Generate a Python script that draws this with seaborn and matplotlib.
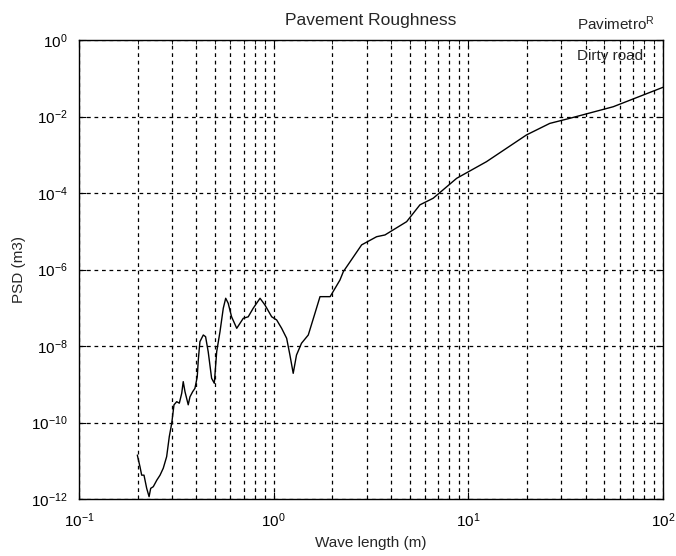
import numpy as np
import pandas as pd
import matplotlib
matplotlib.use("Agg")
import matplotlib.pyplot as plt
import matplotlib.ticker as mticker
import seaborn as sns

# Data (wave length in m, PSD in m^3)
wave_length = [0.1993, 0.2057, 0.2099, 0.2157, 0.2227, 0.2291, 0.2335, 0.2408, 0.2509, 0.2608,
               0.271, 0.282, 0.291, 0.2994, 0.3076, 0.3177, 0.3276, 0.3370, 0.3431, 0.3503,
               0.3640, 0.3716, 0.3837, 0.394, 0.405, 0.410, 0.418, 0.435, 0.447, 0.461,
               0.480, 0.4955, 0.5097, 0.530, 0.551, 0.567, 0.584, 0.608, 0.646, 0.671,
               0.698, 0.740, 0.785, 0.851, 0.902, 0.977, 1.036, 1.099, 1.166, 1.212,
               1.26, 1.31, 1.39, 1.506, 1.630, 1.73, 1.95, 2.19, 2.28, 2.83,
               3.38, 3.73, 4.82, 5.64, 6.60, 8.71, 12.4, 19.9, 26.2, 33.3,
               55.5, 100.0]
psd = [1.41e-11, 7.0e-12, 4.2e-12, 4.2e-12, 1.9e-12, 1.15e-12, 1.9e-12, 2.1e-12, 3.1e-12, 4.2e-12,
       6.4e-12, 1.28e-11, 4.3e-11, 9.5e-11, 2.9e-10, 3.5e-10, 3.2e-10, 5.8e-10, 1.17e-9, 6.4e-10,
       2.9e-10, 4.7e-10, 6.4e-10, 7.8e-10, 1.57e-9, 4.3e-9, 1.3e-8, 1.94e-8, 1.75e-8, 7.1e-9,
       1.43e-9, 1.06e-9, 7.1e-9, 2.37e-8, 9.7e-8, 1.77e-7, 1.31e-7, 5.8e-8, 2.9e-8, 3.9e-8,
       5.3e-8, 5.8e-8, 9.7e-8, 1.77e-7, 1.18e-7, 5.8e-8, 4.8e-8, 2.9e-8, 1.59e-8, 5.8e-9,
       1.93e-9, 5.8e-9, 1.18e-8, 1.94e-8, 7.2e-8, 1.95e-7, 1.95e-7, 5.3e-7, 8.8e-7, 4.4e-6,
       7.2e-6, 8.0e-6, 1.78e-5, 4.9e-5, 7.3e-5, 2.42e-4, 6.6e-4, 3.3e-3, 6.6e-3, 9.0e-3,
       1.8e-2, 5.8e-2]

title_text = "Pavement Roughness"
x_label = "Wave length (m)"
y_label = "PSD (m3)"
y_ticks = [1e-12, 1e-10, 1e-8, 1e-6, 1e-4, 1e-2, 1e0]

sns.set_style("white")
plt.rcParams["font.family"] = ["Liberation Sans", "DejaVu Sans"]
plt.rcParams["mathtext.fontset"] = "custom"
plt.rcParams["mathtext.rm"] = "Liberation Sans"
plt.rcParams["mathtext.it"] = "Liberation Sans"
plt.rcParams["mathtext.bf"] = "Liberation Sans"

df = pd.DataFrame({"wave": wave_length, "psd": psd})

fig = plt.figure(figsize=(6.76, 5.56), dpi=100)
ax = fig.add_axes([79 / 676, 1 - 499 / 556, 584 / 676, 459 / 556])

sns.lineplot(data=df, x="wave", y="psd", ax=ax, color="black", linewidth=1.0)

ax.set_xscale("log")
ax.set_yscale("log")
ax.set_xlim(0.1, 100)
ax.set_ylim(1e-12, 1)
ax.set_yticks(y_ticks)
ax.yaxis.set_minor_locator(mticker.NullLocator())
ax.xaxis.set_major_locator(mticker.LogLocator(base=10, numticks=10))
ax.xaxis.set_minor_locator(mticker.LogLocator(base=10, subs=np.arange(2, 10), numticks=20))
ax.xaxis.set_minor_formatter(mticker.NullFormatter())

grid_kw = dict(color="black", linewidth=0.9, linestyle=(0, (3, 3)))
ax.grid(True, which="major", axis="both", **grid_kw)
ax.grid(True, which="minor", axis="x", **grid_kw)

ax.tick_params(which="both", direction="in", top=True, right=True, bottom=True, left=True,
               labelsize=11, colors="black")
ax.tick_params(which="major", length=5)
ax.tick_params(which="minor", length=3)
ax.tick_params(axis="x", which="major", pad=9)
ax.tick_params(axis="y", which="major", pad=8)
for sp in ax.spines.values():
    sp.set_color("black")
    sp.set_linewidth(1.0)

ax.set_title(title_text, fontsize=12.5, pad=11)
ax.set_xlabel(x_label, fontsize=11, labelpad=4)
ax.set_ylabel(y_label, fontsize=11, labelpad=4)

fig.text(655 / 676, 1 - 30 / 556, "Pavimetro$^{\\mathregular{R}}$", ha="right", va="baseline", fontsize=11)
fig.text(643 / 676, 1 - 60 / 556, "Dirty road", ha="right", va="baseline", fontsize=11)

fig.savefig("out.png", dpi=100)
